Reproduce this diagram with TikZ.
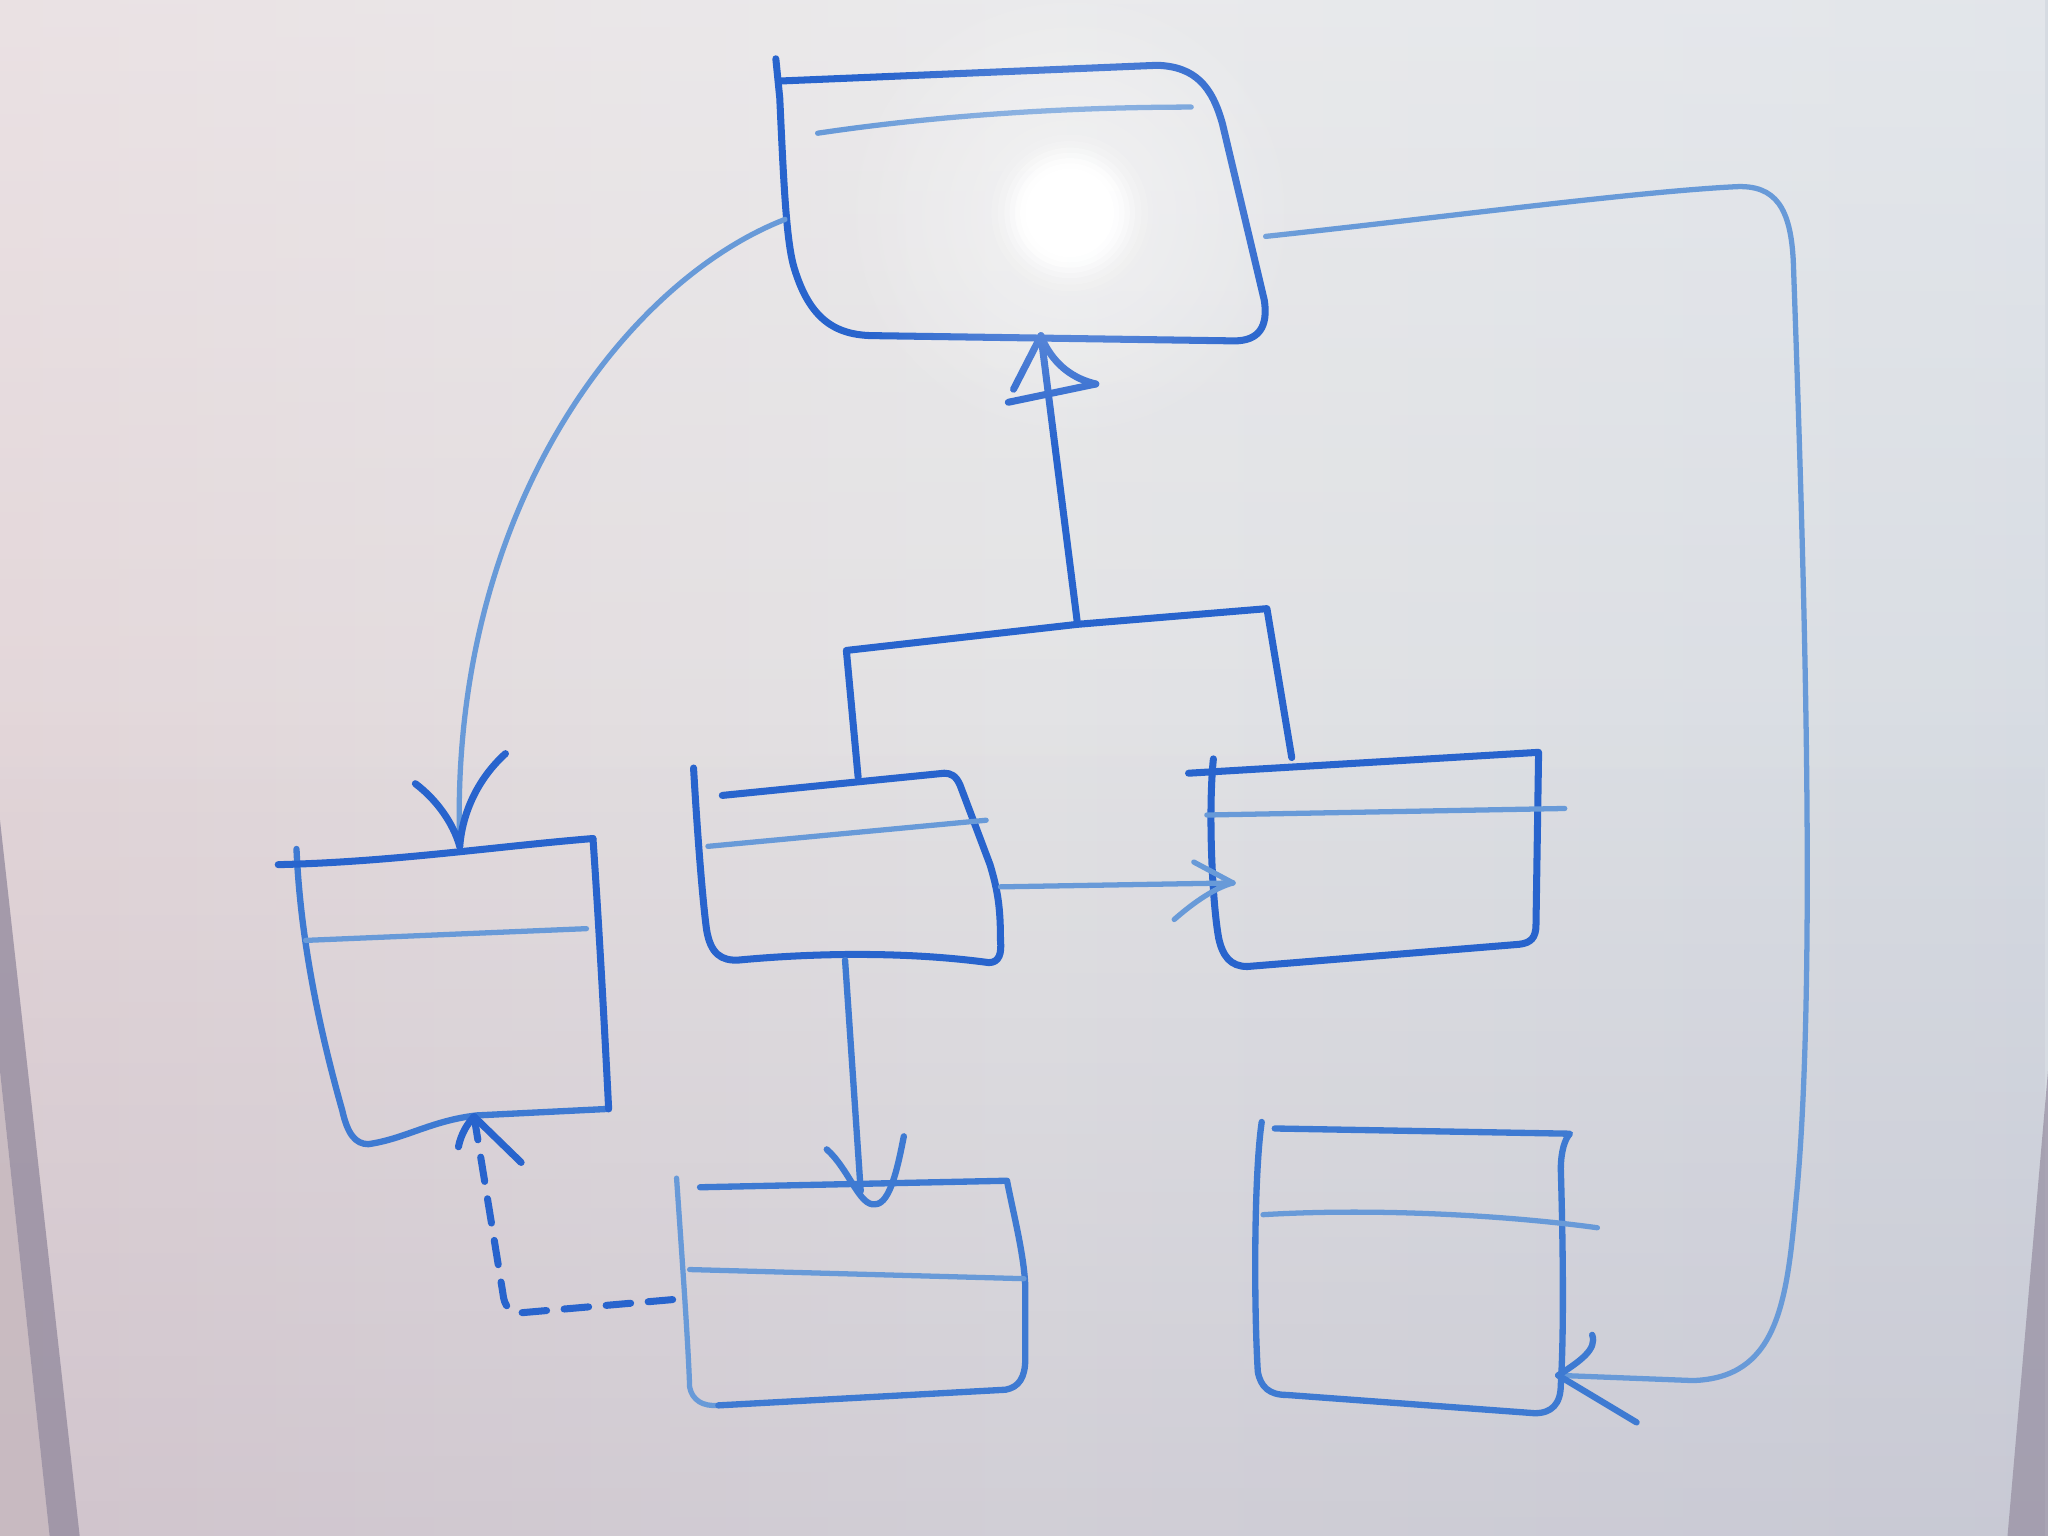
\documentclass[tikz,border=0pt]{standalone}
\usetikzlibrary{fadings}

% marker inks and board tones
\definecolor{inkdark}{RGB}{40,100,205}
\definecolor{inkmid}{RGB}{62,122,210}
\definecolor{inklight}{RGB}{104,154,216}
\definecolor{boardleft}{RGB}{226,213,216}
\definecolor{boardmid}{RGB}{226,226,228}
\definecolor{boardright}{RGB}{214,219,226}
\definecolor{boardshade}{RGB}{150,138,165}
\definecolor{frameedge}{RGB}{145,136,156}
\definecolor{framelip}{RGB}{198,184,190}

\tikzfading[name=glowfade, inner color=transparent!0, outer color=transparent!100]
\tikzfading[name=topfade, top color=transparent!0, bottom color=transparent!100]
\tikzfading[name=bottomfade, top color=transparent!100, bottom color=transparent!0]

\begin{document}
\begin{tikzpicture}[x=0.013061cm, y=-0.013061cm,
  ink/.style={draw=inkdark, line width=2pt, line cap=round, line join=round},
  inkm/.style={draw=inkmid, line width=1.8pt, line cap=round, line join=round},
  inkl/.style={draw=inklight, line width=1.5pt, line cap=round, line join=round},
  dashedink/.style={ink, dash pattern=on 7pt off 5pt}]

% ---------- whiteboard ----------
\useasboundingbox (0,0) rectangle (1568,1176);
\shade[left color=boardleft, right color=boardright, middle color=boardmid] (0,0) rectangle (1568,1176);
\fill[white, fill opacity=0.3, path fading=topfade] (0,0) rectangle (1568,650);
\fill[boardshade, fill opacity=0.22, path fading=bottomfade] (0,550) rectangle (1568,1176);
% board frame at the lower corners
\fill[framelip, fill opacity=0.8] (0,820) -- (38,1176) -- (0,1176) -- cycle;
\fill[frameedge, fill opacity=0.75] (0,628) -- (61,1176) -- (38,1176) -- (0,820) -- cycle;
\fill[frameedge, fill opacity=0.65] (1568,820) -- (1537,1176) -- (1568,1176) -- cycle;

% ---------- anchor points ----------
\coordinate (A-west)  at (601,168);
\coordinate (A-east)  at (969,181);
\coordinate (A-south) at (797,257);
\coordinate (B-north) at (352,648);
\coordinate (B-south) at (363,855);
\coordinate (C-north) at (657,595);
\coordinate (C-east)  at (766,679);
\coordinate (C-south) at (647,735);
\coordinate (D-north) at (989,580);
\coordinate (D-west)  at (944,676);
\coordinate (E-north) at (670,922);
\coordinate (E-shaft) at (659,912);
\coordinate (E-west)  at (515,995);
\coordinate (F-east)  at (1193,1053);
\coordinate (gen-left)  at (648,498);
\coordinate (gen-mid)   at (825,478);
\coordinate (gen-right) at (970,466);
\coordinate (glare) at (819,163);

% ---------- class A (top) ----------
\draw[ink] (594,45) -- (597,75) .. controls (600,140) and (602,185) .. (608,205)
  .. controls (620,245) and (640,257) .. (670,257) -- (945,261)
  .. controls (964,261) and (971,250) .. (968,230) -- (936,95)
  .. controls (928,66) and (915,51) .. (886,50) -- (598,62);
\draw[inkl] (626,102) .. controls (720,88) and (820,82) .. (912,82);

% ---------- class B (left) ----------
\draw[inkm] (227,650) .. controls (230,720) and (245,790) .. (262,850)
  .. controls (266,868) and (272,876) .. (282,876)
  .. controls (310,872) and (330,858) .. (365,854) -- (466,849);
\draw[ink] (466,849) .. controls (462,770) and (458,700) .. (454,642);
\draw[ink] (454,642) .. controls (380,648) and (300,660) .. (213,662);
\draw[inkl] (234,720) -- (449,711);

% ---------- class C (middle left) ----------
\draw[ink] (531,588) .. controls (534,640) and (538,690) .. (541,712)
  .. controls (544,730) and (552,736) .. (566,735)
  .. controls (620,730) and (690,728) .. (757,737)
  .. controls (765,737) and (767,730) .. (766,720)
  .. controls (766,695) and (764,682) .. (758,662) -- (735,601)
  .. controls (732,594) and (728,592) .. (723,592) -- (553,609);
\draw[inkl] (542,648) -- (755,628);

% ---------- class D (middle right) ----------
\draw[ink] (929,581) .. controls (925,620) and (928,690) .. (933,718)
  .. controls (936,732) and (942,740) .. (955,740) -- (1163,723)
  .. controls (1172,722) and (1176,718) .. (1176,708) -- (1178,576) -- (910,592);
\draw[inkl] (924,624) -- (1198,619);

% ---------- class E (bottom middle) ----------
\draw[inkl] (518,902) .. controls (522,960) and (527,1030) .. (528,1062)
  .. controls (530,1072) and (538,1077) .. (550,1076);
\draw[inkm] (550,1076) -- (770,1064) .. controls (780,1062) and (785,1055) .. (785,1040)
  -- (785,985) .. controls (784,960) and (776,930) .. (771,904) -- (536,909);
\draw[inkl] (528,972) -- (784,979);

% ---------- class F (bottom right) ----------
\draw[inkm] (966,859) .. controls (960,900) and (960,1000) .. (963,1050)
  .. controls (965,1062) and (972,1068) .. (985,1068) -- (1175,1082)
  .. controls (1188,1082) and (1195,1075) .. (1195,1060)
  .. controls (1198,1010) and (1196,930) .. (1195,895)
  .. controls (1195,882) and (1198,872) .. (1202,868) -- (976,864);
\draw[inkl] (967,930) .. controls (1050,925) and (1150,930) .. (1223,940);

% ---------- generalisation C, D -> A ----------
\draw[ink] (C-north) -- (gen-left) -- (gen-mid) -- (gen-right) -- (D-north);
\draw[ink] (gen-mid) -- (A-south);
\draw[ink] (A-south) -- (776,298);
\draw[ink] (772,308) -- (839,294);
\draw[ink] (799,262) .. controls (808,280) and (822,290) .. (839,294);

% ---------- association A -> B ----------
\draw[inkl] (A-west) .. controls (480,215) and (343,390) .. (B-north);
\draw[ink] (318,600) .. controls (334,612) and (347,630) .. (B-north);
\draw[ink] (387,577) .. controls (366,596) and (354,622) .. (B-north);

% ---------- association C -> D ----------
\draw[inkl] (C-east) -- (D-west);
\draw[inkl] (914,660) -- (D-west);
\draw[inkl] (899,704) .. controls (915,690) and (930,680) .. (D-west);

% ---------- association C -> E ----------
\draw[inkm] (C-south) -- (E-shaft);
\draw[inkm] (633,880) .. controls (650,895) and (658,924) .. (E-north)
  .. controls (682,922) and (688,890) .. (692,870);

% ---------- dependency E -> B ----------
\draw[dashedink] (E-west) -- (400,1005) .. controls (390,1005) and (386,1000) .. (385,990) -- (B-south);
\draw[ink] (351,878) .. controls (353,868) and (358,860) .. (B-south);
\draw[ink] (B-south) -- (399,890);

% ---------- association A -> F ----------
\draw[inkl] (A-east) .. controls (1100,167) and (1250,147) .. (1328,143)
  .. controls (1360,141) and (1371,160) .. (1373,200)
  .. controls (1380,400) and (1392,750) .. (1375,920)
  .. controls (1368,1000) and (1360,1055) .. (1296,1057) -- (F-east);
\draw[inkm] (1219,1022) .. controls (1223,1033) and (1210,1042) .. (F-east);
\draw[inkm] (F-east) -- (1253,1089);

% ---------- light reflection on the board ----------
\fill[white, fill opacity=0.45, path fading=glowfade] (glare) circle (180);
\foreach \r/\o in {60/0.12, 55/0.18, 50/0.25, 46/0.35, 42/0.5, 38/0.7, 34/1}
  \fill[white, fill opacity=\o] (glare) circle (\r);

\end{tikzpicture}
\end{document}
